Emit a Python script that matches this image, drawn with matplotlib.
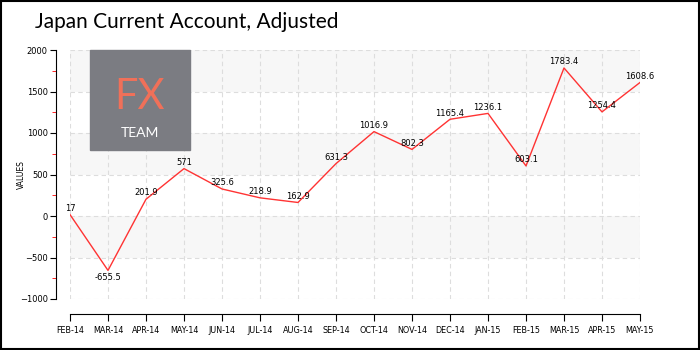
import matplotlib
matplotlib.use("Agg")
import matplotlib.pyplot as plt
from matplotlib.patches import Rectangle
from matplotlib.ticker import MultipleLocator

months = ["FEB-14", "MAR-14", "APR-14", "MAY-14", "JUN-14", "JUL-14", "AUG-14", "SEP-14",
          "OCT-14", "NOV-14", "DEC-14", "JAN-15", "FEB-15", "MAR-15", "APR-15", "MAY-15"]
values = [17, -655.5, 201.9, 571, 325.6, 218.9, 162.9, 631.3,
          1016.9, 802.3, 1165.4, 1236.1, 603.1, 1783.4, 1254.4, 1608.6]
labels = ["17", "-655.5", "201.9", "571", "325.6", "218.9", "162.9", "631.3",
          "1016.9", "802.3", "1165.4", "1236.1", "603.1", "1783.4", "1254.4", "1608.6"]

fig = plt.figure(figsize=(7, 3.5), dpi=100)
ax = fig.add_axes([70/700, 1-299/350, 570/700, 249/350])

x = list(range(len(months)))
ax.set_xlim(0, len(months) - 1)
ax.set_ylim(-1000, 2000)

# alternating bands
for lo in [1500, 500, -500]:
    ax.axhspan(lo, lo + 500, color="#f7f7f7", zorder=0, lw=0)

ax.grid(True, linestyle=(0, (4, 3)), color="#dddddd", linewidth=0.8)
ax.set_axisbelow(True)

ax.plot(x, values, color="#ff3333", linewidth=1.0, zorder=3)
for xi, v, t in zip(x, values, labels):
    dy = -5 if v < 0 else 4.5
    ax.annotate(t, (xi, v), xytext=(0, dy), textcoords="offset points",
                ha="center", va="center", fontsize=6, zorder=4)

ax.set_xticks(x)
ax.set_xticklabels(months)
ax.yaxis.set_major_locator(MultipleLocator(500))
ax.yaxis.set_minor_locator(MultipleLocator(250))
ax.tick_params(axis="y", labelsize=6, length=4, pad=2)
ax.tick_params(axis="y", which="minor", length=3, color="red")
ax.tick_params(axis="x", length=5, labelsize=5.8)
ax.set_ylabel("VALUES", fontsize=5.5)
ax.yaxis.set_label_coords(-44/570, 0.5)

for s in ["top", "right"]:
    ax.spines[s].set_visible(False)
ax.spines["left"].set_position(("outward", 10))
ax.spines["bottom"].set_position(("outward", 11))

# logo
fig.patches.append(Rectangle((90/700, 1-150/350), 100/700, 100/350,
                             transform=fig.transFigure, color="#7b7c82", zorder=5))
fig.text(140/700, 1-97/350, "FX", color="#f07059", fontsize=30, ha="center", va="center",
         family="Lato", zorder=6)
fig.text(140/700, 1-133/350, "TEAM", color="white", fontsize=10, ha="center", va="center",
         family="Lato", zorder=6)

fig.text(35/700, 1-22/350, "Japan Current Account, Adjusted", fontsize=15, family="Lato",
         va="center", ha="left")

fig.patches.append(Rectangle((0.001, 0.002), 0.997, 0.996, transform=fig.transFigure,
                             fill=False, edgecolor="black", linewidth=1.5))

fig.savefig("out.png", dpi=100)
